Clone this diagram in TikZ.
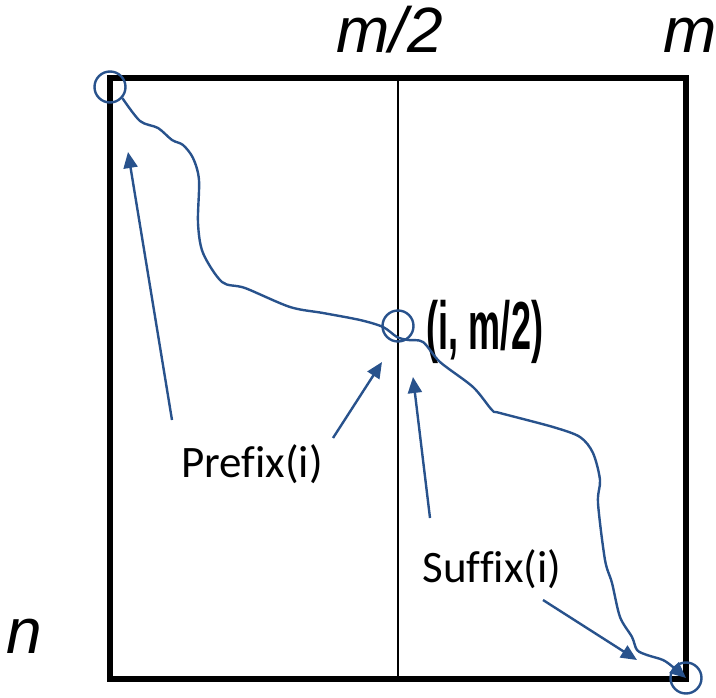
\documentclass[tikz,border=0pt]{standalone}
\usepackage{fontspec}
\setmainfont{Liberation Sans}
\newfontfamily\calibri[Ligatures=NoCommon]{Carlito}
\usepackage{graphicx}
\usetikzlibrary{arrows.meta}
\definecolor{pathblue}{RGB}{40,82,140}

\begin{document}
\begin{tikzpicture}[x=1pt,y=-1pt,
  ring/.style={circle,draw=pathblue,line width=2.4pt,minimum size=31pt,inner sep=0pt},
  pointer/.style={color=pathblue,line width=2.4pt,-{Triangle[length=16pt,width=14pt]}},
  dimlabel/.style={font=\fontsize{64}{64}\selectfont\itshape,anchor=base,inner sep=0pt},
  sidelabel/.style={font=\fontsize{45}{45}\selectfont\calibri,anchor=base,inner sep=0pt}]
\useasboundingbox (0,0) rectangle (716,698);
\node (grid) [draw,line width=6pt,minimum width=576pt,minimum height=601pt,inner sep=0pt] at (398,378.5) {};
\draw[line width=2pt] (grid.north) -- (grid.south);
\node (half) [dimlabel] at (390,53) {m/2};
\node (full) [dimlabel] at (690,53) {m};
\node (rows) [dimlabel] at (24,653) {n};
% circled points on the path
\node (start) [ring] at (110,87) {};
\node (cross) [ring] at (398,326) {};
\node (end) [ring] at (686,678) {};
\node (crosslbl) [anchor=base,inner sep=0pt,font=\fontsize{68}{68}\selectfont\bfseries] at (485,349) {\scalebox{0.53}[1]{(i, m/2)}};
% the path itself
\draw[pointer] plot[smooth,tension=0.5] coordinates {(start.-42) (140,121) (158,128) (172,140) (183,145) (193,158) (199,180) (198,223) (203,253) (222,282) (245,288) (290,307) (323,313) (360,320) (383,327) (397,337) (408,340) (423,342) (440,362) (473,387) (492,410) (500,413) (553,427) (580,437) (593,453) (600,480) (598,503) (605,560) (612,583) (620,617) (632,637) (637,650) (647,655) (663,660) (673,667) (end.center)};
% labels and their pointers
\node (prefix) [sidelabel] at (252,477) {Prefix(i)};
\node (suffix) [sidelabel] at (492,582) {Suffix(i)};
\coordinate (pre1) at (172,420);
\coordinate (pre2) at (333,438);
\coordinate (suf1) at (430,518);
\coordinate (suf2) at (543,600);
\coordinate (pre1tip) at (128,152);
\coordinate (pre2tip) at (382,362);
\coordinate (suf1tip) at (413,377);
\coordinate (suf2tip) at (637,660);
\draw[pointer] (pre1) -- (pre1tip);
\draw[pointer] (pre2) -- (pre2tip);
\draw[pointer] (suf1) -- (suf1tip);
\draw[pointer] (suf2) -- (suf2tip);
\end{tikzpicture}
\end{document}
